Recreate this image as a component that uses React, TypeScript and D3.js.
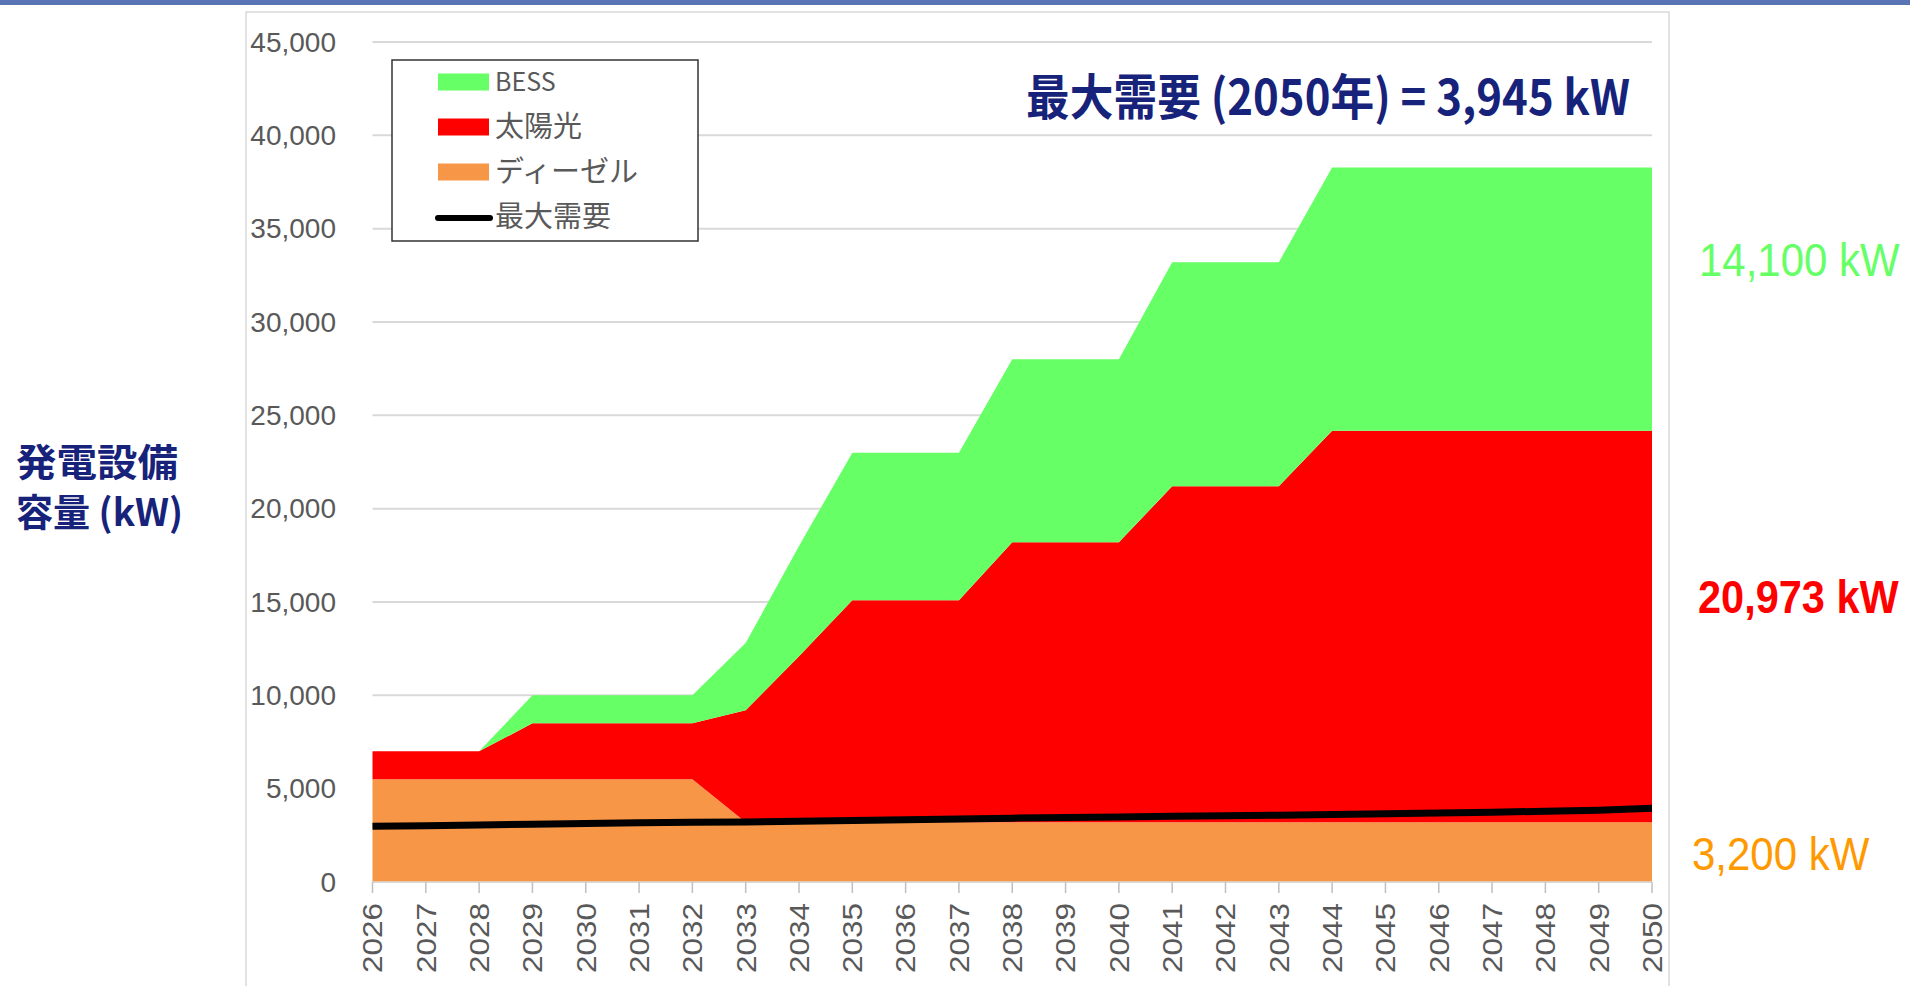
import React, { useEffect } from "react";
import * as d3 from "d3";

const years = [2026, 2027, 2028, 2029, 2030, 2031, 2032, 2033, 2034, 2035, 2036, 2037, 2038, 2039, 2040, 2041, 2042, 2043, 2044, 2045, 2046, 2047, 2048, 2049, 2050];
const diesel = [5500, 5500, 5500, 5500, 5500, 5500, 5500, 3200, 3200, 3200, 3200, 3200, 3200, 3200, 3200, 3200, 3200, 3200, 3200, 3200, 3200, 3200, 3200, 3200, 3200];
const solar = [1500, 1500, 1500, 3000, 3000, 3000, 3000, 6000, 8900, 11900, 11900, 11900, 15000, 15000, 15000, 18000, 18000, 18000, 20973, 20973, 20973, 20973, 20973, 20973, 20973];
const bess = [0, 0, 0, 1500, 1500, 1500, 1500, 3600, 5900, 7900, 7900, 7900, 9800, 9800, 9800, 12000, 12000, 12000, 14100, 14100, 14100, 14100, 14100, 14100, 14100];
const maxDemand = [2980, 3020, 3060, 3100, 3130, 3180, 3200, 3220, 3260, 3300, 3340, 3380, 3420, 3450, 3480, 3520, 3550, 3580, 3610, 3660, 3700, 3740, 3790, 3840, 3945];
const yTicks = [0, 5000, 10000, 15000, 20000, 25000, 30000, 35000, 40000, 45000];
const seriesNames = ["BESS", "太陽光", "ディーゼル", "最大需要"];
const seriesColors = ["#66FF66", "#FF0000", "#F79646", "#000000"];

const W = 1910;
const H = 986;

export default function App() {
  useEffect(() => {
    document.body.style.margin = "0";
    document.body.style.overflow = "hidden";
  }, []);

  const x = d3.scaleLinear().domain([2026, 2050]).range([372.5, 1652]);
  const y = d3.scaleLinear().domain([0, 45000]).range([882, 42]);

  const rows = years.map((yr, i) => ({ year: yr, diesel: diesel[i], solar: solar[i], bess: bess[i] }));
  const stack = d3.stack<any>().keys(["diesel", "solar", "bess"])(rows);
  const area = d3
    .area<any>()
    .x((d) => x(d.data.year))
    .y0((d) => y(d[0]))
    .y1((d) => y(d[1]));
  const areaColors: Record<string, string> = { diesel: "#F79646", solar: "#FF0000", bess: "#66FF66" };

  const line = d3
    .line<number>()
    .x((_, i) => x(years[i]))
    .y((d) => y(d));

  const fmt = d3.format(",");
  const tickFont = "'Liberation Sans', Arial, sans-serif";
  const cjk = "'Noto Sans CJK JP', 'Liberation Sans', sans-serif";
  const navy = "#17237A";

  return (
    <svg width={W} height={H} style={{ position: "absolute", left: 0, top: 0, background: "#fff" }}>
      <rect x={0} y={0} width={W} height={H} fill="#fff" />
      <rect x={0} y={0} width={W} height={5} fill="#5874B4" />
      <rect x={246} y={12} width={1423} height={H} fill="none" stroke="#d9d9d9" strokeWidth={1.5} />

      {yTicks.map((t) => (
        <g key={t}>
          <line x1={372.5} x2={1652} y1={y(t)} y2={y(t)} stroke="#d9d9d9" strokeWidth={2} />
          <text x={336} y={y(t)} dy="0.35em" textAnchor="end" fontFamily={tickFont} fontSize={28} fill="#595959">
            {fmt(t)}
          </text>
        </g>
      ))}

      {stack.map((s) => (
        <path key={s.key} d={area(s) || ""} fill={areaColors[s.key]} />
      ))}

      <line x1={372.5} x2={1652} y1={882} y2={882} stroke="#d9d9d9" strokeWidth={1.5} />
      {years.map((yr) => (
        <g key={yr}>
          <line x1={x(yr)} x2={x(yr)} y1={882} y2={893} stroke="#bfbfbf" strokeWidth={1.5} />
          <text
            transform={`translate(${x(yr)},903) rotate(-90)`}
            dy="0.35em"
            textAnchor="end"
            fontFamily={tickFont}
            fontSize={28}
            fill="#595959"
            textLength={70}
            lengthAdjust="spacingAndGlyphs"
          >
            {yr}
          </text>
        </g>
      ))}

      <path d={line(maxDemand) || ""} fill="none" stroke="#000" strokeWidth={7} strokeLinejoin="round" />

      {/* legend */}
      <rect x={392} y={60} width={306} height={181} fill="#fff" stroke="#333" strokeWidth={1.5} />
      {seriesNames.map((n, i) => {
        const cy = 82 + i * 45;
        return (
          <g key={n}>
            {i < 3 ? (
              <rect x={438} y={cy - 8.5} width={51} height={17} fill={seriesColors[i]} />
            ) : (
              <line x1={438} x2={490} y1={cy + 1} y2={cy + 1} stroke="#000" strokeWidth={6} strokeLinecap="round" />
            )}
            <text x={495} y={cy} dy="0.36em" fontFamily={cjk} fontSize={i === 0 ? 25 : 29} fill="#595959">
              {n}
            </text>
          </g>
        );
      })}

      {/* title */}
      <text
        x={1026}
        y={115}
        fontFamily={cjk}
        fontWeight="bold"
        fontSize={49}
        fill={navy}
        textLength={604}
        lengthAdjust="spacingAndGlyphs"
      >
        最大需要 (2050年) = 3,945 kW
      </text>

      {/* y axis title */}
      <text x={16} y={476} fontFamily={cjk} fontWeight="bold" fontSize={38} fill={navy} textLength={162} lengthAdjust="spacingAndGlyphs">
        発電設備
      </text>
      <text x={16} y={526} fontFamily={cjk} fontWeight="bold" fontSize={38} fill={navy} textLength={167} lengthAdjust="spacingAndGlyphs">
        容量 (kW)
      </text>

      {/* right labels */}
      <text transform="translate(1699,276) scale(1,1.12)" fontFamily={tickFont} fontSize={42} fill="#66FF66">
        14,100 kW
      </text>
      <text transform="translate(1698,613) scale(1,1.1)" fontFamily={tickFont} fontWeight="bold" fontSize={41.5} fill="#FF0000">
        20,973 kW
      </text>
      <text transform="translate(1692,870) scale(1,1.1)" fontFamily={tickFont} fontSize={42} fill="#FF9900">
        3,200 kW
      </text>
    </svg>
  );
}
